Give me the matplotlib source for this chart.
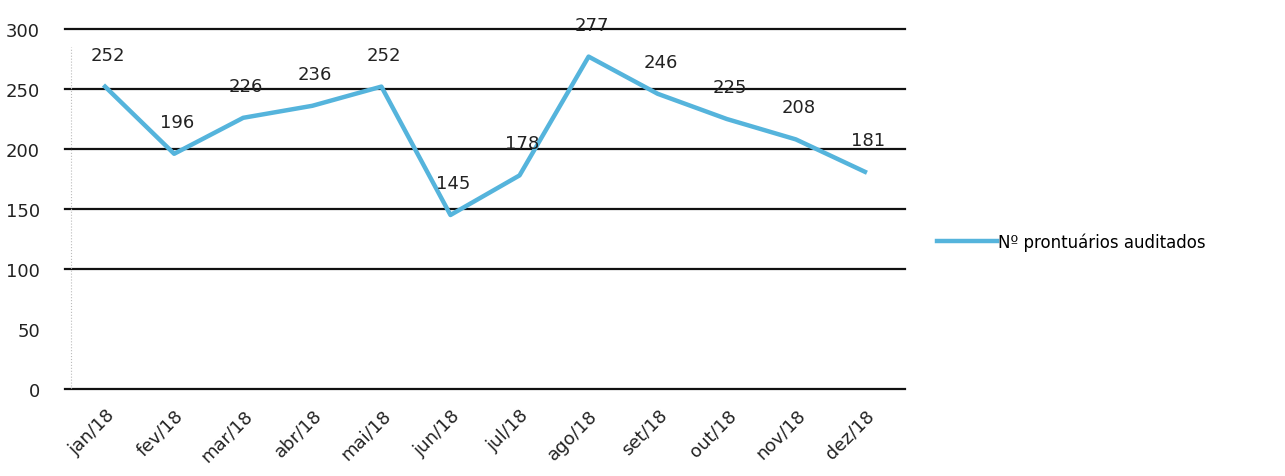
import matplotlib
matplotlib.use('Agg')
import matplotlib.pyplot as plt

MESES = ['jan/18', 'fev/18', 'mar/18', 'abr/18', 'mai/18', 'jun/18',
         'jul/18', 'ago/18', 'set/18', 'out/18', 'nov/18', 'dez/18']
AUDITADOS = [252, 196, 226, 236, 252, 145, 178, 277, 246, 225, 208, 181]
Y_TICKS = [0, 50, 100, 150, 200, 250, 300]
GRID_Y = [0, 100, 150, 200, 250, 300]

plt.rcParams['font.family'] = ['DejaVu Sans']

fig = plt.figure(figsize=(12.85, 4.77), dpi=100)
ax = fig.add_axes([65 / 1285, 1 - 390 / 477, 840 / 1285, 360 / 477])

x = list(range(len(MESES)))

# linhas de grade horizontais
for g in GRID_Y:
    ax.axhline(g, color='#111111', lw=1.6, zorder=1, clip_on=False)
ax.axvline(-0.5, color='#bbbbbb', lw=0.8, ls=':', ymin=0, ymax=0.95, zorder=1)

ax.plot(x, AUDITADOS, color='#55b4dc', lw=3.2, zorder=3,
        label='Nº prontuários auditados')

for xi, v in zip(x, AUDITADOS):
    ax.annotate(str(v), (xi, v), xytext=(2, 23), textcoords='offset points',
                ha='center', va='center', fontsize=13, color='#222222', zorder=4)

ax.set_xlim(-0.58, 11.58)
ax.set_ylim(0, 300)
ax.set_yticks(Y_TICKS)
ax.set_yticklabels([str(t) for t in Y_TICKS], fontsize=13, color='#222222')
ax.set_xticks(x)
ax.set_xticklabels(MESES, rotation=45, ha='right', va='top',
                   rotation_mode='anchor', fontsize=13, color='#222222')
ax.tick_params(axis='both', length=0)
ax.tick_params(axis='y', pad=18)
ax.tick_params(axis='x', pad=12)
for s in ax.spines.values():
    s.set_visible(False)

ax.legend(loc='center left', bbox_to_anchor=(1.02, 0.41), frameon=False,
          fontsize=12, handlelength=3.6, handletextpad=0.1)

fig.savefig('out.png', dpi=100)
